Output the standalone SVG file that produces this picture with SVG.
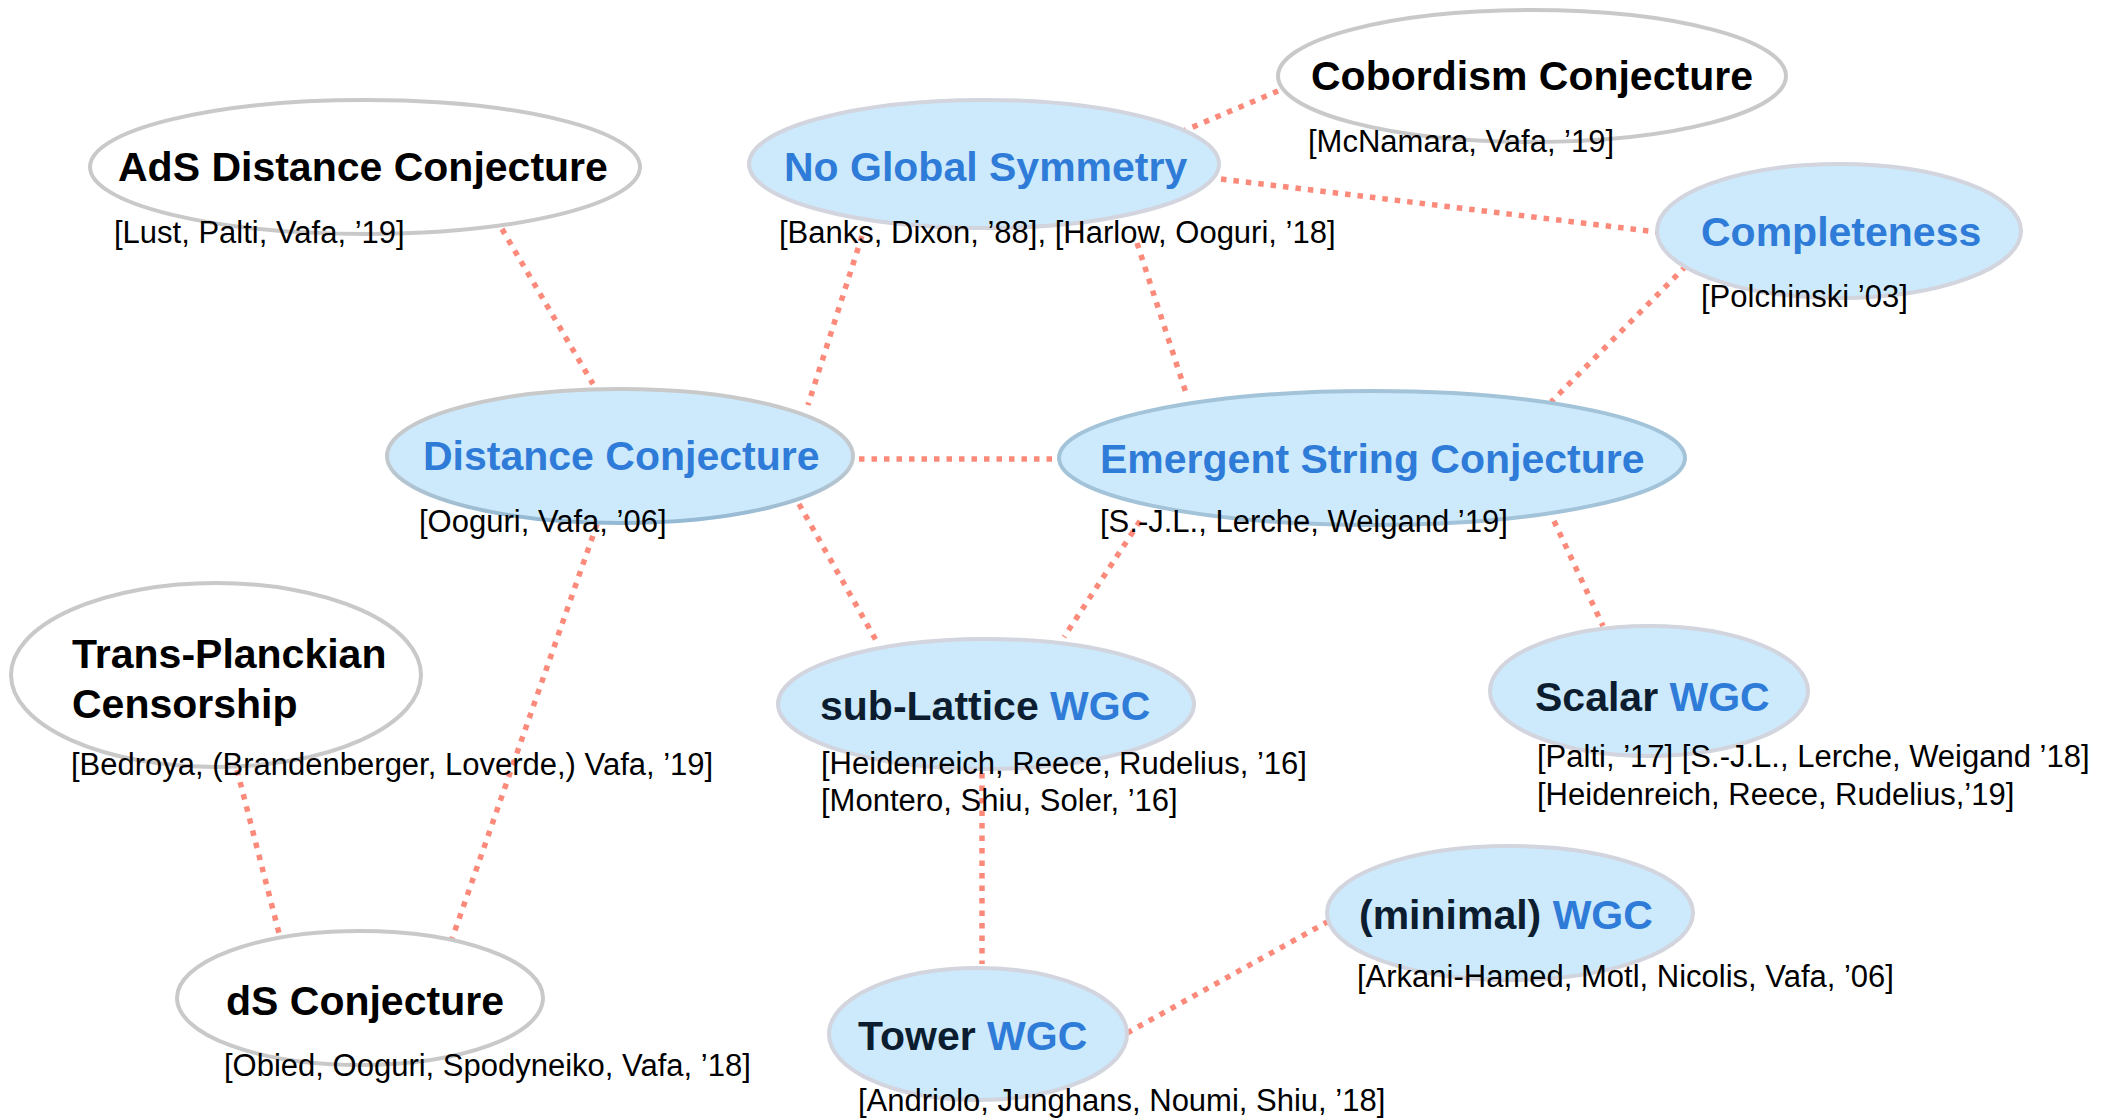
<svg xmlns="http://www.w3.org/2000/svg" width="2112" height="1118" viewBox="0 0 2112 1118">
  <defs>
    <linearGradient id="strokeDist" x1="0" y1="0" x2="0" y2="1">
      <stop offset="0" stop-color="#c9c9c9"/>
      <stop offset="0.55" stop-color="#c2c9cf"/>
      <stop offset="1" stop-color="#93b9d4"/>
    </linearGradient>
  </defs>
  <style>
    .plain { fill: #ffffff; stroke: #c9c9c9; stroke-width: 4; }
    .blue { fill: #cdeafd; stroke: #d2d4de; stroke-width: 4; }
    .dist { fill: #cdeafd; stroke: url(#strokeDist); stroke-width: 4; }
    .emerg { fill: #cdeafd; stroke: #a3c3d9; stroke-width: 4; }
    .title { font-family: "Liberation Sans", Arial, Helvetica, sans-serif; font-weight: bold; font-size: 41px; }
    .black { fill: #000000; }
    .hl { fill: #2f7bd8; }
    .dark { fill: #0c1d30; }
    .ref { font-family: "Liberation Sans", Arial, Helvetica, sans-serif; font-size: 31px; fill: #000000; }
    .link { stroke: #fb8a7b; stroke-width: 5.5; stroke-dasharray: 5.5 7; fill: none; }
  </style>
  <rect width="2112" height="1118" fill="#ffffff"/>

  <g id="connectors">
    <line class="link" x1="502" y1="229" x2="593" y2="384"/>
    <line class="link" x1="862" y1="236" x2="808" y2="405"/>
    <line class="link" x1="1181" y1="132" x2="1278" y2="91"/>
    <line class="link" x1="1221" y1="179" x2="1657" y2="232"/>
    <line class="link" x1="1137" y1="243" x2="1187" y2="396"/>
    <line class="link" x1="1686" y1="266" x2="1551" y2="402"/>
    <line class="link" x1="859" y1="459" x2="1057" y2="459"/>
    <line class="link" x1="799" y1="504" x2="877" y2="642"/>
    <line class="link" x1="1140" y1="521" x2="1064" y2="637"/>
    <line class="link" x1="1554" y1="521" x2="1603" y2="626"/>
    <line class="link" x1="597" y1="524" x2="452" y2="939"/>
    <line class="link" x1="237" y1="770" x2="280" y2="937"/>
    <line class="link" x1="982" y1="773" x2="982" y2="964"/>
    <line class="link" x1="1127" y1="1033" x2="1329" y2="921"/>
  </g>

  <g id="ads-distance">
    <ellipse class="plain" cx="365" cy="167" rx="275" ry="67"/>
    <text class="title black" x="118" y="181">AdS Distance Conjecture</text>
    <text class="ref" x="114" y="243">[Lust, Palti, Vafa, ’19]</text>
  </g>

  <g id="no-global-symmetry">
    <ellipse class="blue" cx="984" cy="164" rx="235" ry="64"/>
    <text class="title hl" x="784" y="181">No Global Symmetry</text>
    <text class="ref" x="779" y="243">[Banks, Dixon, ’88], [Harlow, Ooguri, ’18]</text>
  </g>

  <g id="cobordism">
    <ellipse class="plain" cx="1532" cy="76" rx="254" ry="66"/>
    <text class="title black" x="1311" y="90">Cobordism Conjecture</text>
    <text class="ref" x="1308" y="152">[McNamara, Vafa, ’19]</text>
  </g>

  <g id="completeness">
    <ellipse class="blue" cx="1839" cy="231" rx="182" ry="67"/>
    <text class="title hl" x="1701" y="246">Completeness</text>
    <text class="ref" x="1701" y="307">[Polchinski ’03]</text>
  </g>

  <g id="distance">
    <ellipse class="dist" cx="620" cy="456" rx="233" ry="67"/>
    <text class="title hl" x="423" y="470">Distance Conjecture</text>
    <text class="ref" x="419" y="532">[Ooguri, Vafa, ’06]</text>
  </g>

  <g id="emergent-string">
    <ellipse class="emerg" cx="1372" cy="458" rx="313" ry="67"/>
    <text class="title hl" x="1100" y="473">Emergent String Conjecture</text>
    <text class="ref" x="1100" y="532">[S.-J.L., Lerche, Weigand ’19]</text>
  </g>

  <g id="trans-planckian">
    <ellipse class="plain" cx="216" cy="675" rx="205" ry="92"/>
    <text class="title black" x="72" y="668">Trans-Planckian</text>
    <text class="title black" x="72" y="718">Censorship</text>
    <text class="ref" x="71" y="775">[Bedroya, (Brandenberger, Loverde,) Vafa, ’19]</text>
  </g>

  <g id="ds">
    <ellipse class="plain" cx="360" cy="998" rx="183" ry="67"/>
    <text class="title black" x="226" y="1015">dS Conjecture</text>
    <text class="ref" x="224" y="1076">[Obied, Ooguri, Spodyneiko, Vafa, ’18]</text>
  </g>

  <g id="sub-lattice-wgc">
    <ellipse class="blue" cx="986" cy="704" rx="208" ry="65"/>
    <text class="title" x="820" y="720"><tspan class="dark">sub-Lattice </tspan><tspan class="hl">WGC</tspan></text>
    <text class="ref" x="821" y="774">[Heidenreich, Reece, Rudelius, ’16]</text>
    <text class="ref" x="821" y="811">[Montero, Shiu, Soler, ’16]</text>
  </g>

  <g id="scalar-wgc">
    <ellipse class="blue" cx="1649" cy="691" rx="159" ry="65"/>
    <text class="title" x="1535" y="711"><tspan class="dark">Scalar </tspan><tspan class="hl">WGC</tspan></text>
    <text class="ref" x="1537" y="767">[Palti, ’17] [S.-J.L., Lerche, Weigand ’18]</text>
    <text class="ref" x="1537" y="805">[Heidenreich, Reece, Rudelius,’19]</text>
  </g>

  <g id="minimal-wgc">
    <ellipse class="blue" cx="1510" cy="913" rx="183" ry="67"/>
    <text class="title" x="1359" y="929"><tspan class="dark">(minimal) </tspan><tspan class="hl">WGC</tspan></text>
    <text class="ref" x="1357" y="987">[Arkani-Hamed, Motl, Nicolis, Vafa, ’06]</text>
  </g>

  <g id="tower-wgc">
    <ellipse class="blue" cx="978" cy="1034" rx="149" ry="66"/>
    <text class="title" x="858" y="1050"><tspan class="dark">Tower </tspan><tspan class="hl">WGC</tspan></text>
    <text class="ref" x="858" y="1111">[Andriolo, Junghans, Noumi, Shiu, ’18]</text>
  </g>
</svg>
